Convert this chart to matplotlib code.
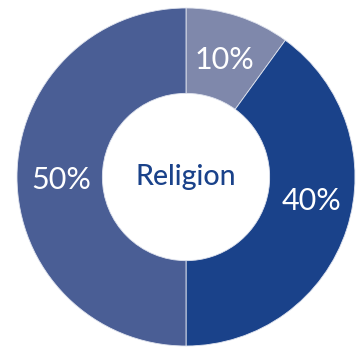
import matplotlib
matplotlib.use("Agg")
import matplotlib.pyplot as plt

# reparto por categoria, en sentido horario desde arriba
valores = [10, 40, 50]
colores = ["#7f88ab", "#1a428a", "#4a5e95"]
# posicion de cada etiqueta (x, y) en unidades del radio exterior
pos_etiq = [(0.225, 0.69), (0.74, -0.14), (-0.74, -0.015)]
titulo = "Religion"

R = 169.0  # radio exterior en px
CX, CY = 186.0, 177.0  # centro en px (desde arriba-izquierda)
W, H = 356, 349

fig = plt.figure(figsize=(W / 100, H / 100), dpi=100)
ax = fig.add_axes([0, 0, 1, 1])
ax.pie(valores, colors=colores, startangle=90, counterclock=False, radius=1.0,
       wedgeprops=dict(width=0.505, edgecolor="#dfe3ee", linewidth=0.6))
ax.set_xlim(-CX / R, (W - CX) / R)
ax.set_ylim(-(H - CY) / R, CY / R)
ax.set_aspect("auto")
ax.axis("off")

for v, (x, y) in zip(valores, pos_etiq):
    ax.text(x, y, f"{v}%", ha="center", va="center", color="white",
            fontsize=22, family="Lato")
ax.text(0, 0.0, titulo, ha="center", va="center", color="#1a428a",
        fontsize=20.5, family="Lato", fontweight="medium")

fig.savefig("out.png", dpi=100)
